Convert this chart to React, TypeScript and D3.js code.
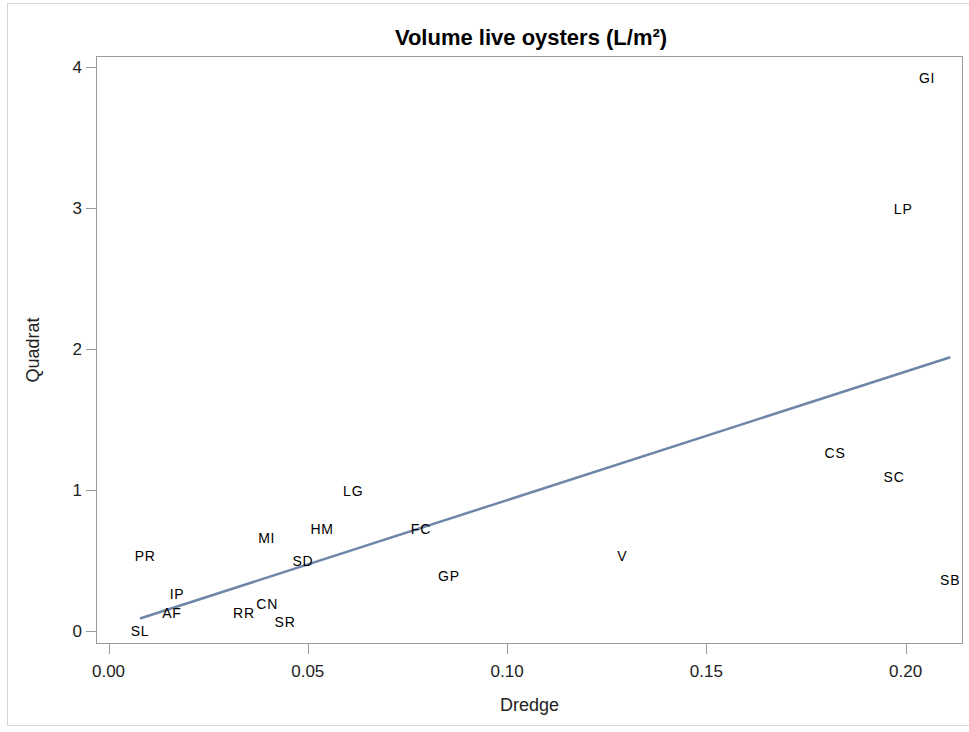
import React from "react";
import * as d3 from "d3";

const sites = ["GI", "LP", "CS", "SC", "SB", "V", "GP", "FC", "LG", "HM", "MI", "SD", "PR", "IP", "AF", "SL", "RR", "CN", "SR"];
const dredge = [0.2054, 0.1994, 0.1823, 0.1971, 0.2112, 0.1289, 0.0854, 0.0784, 0.0614, 0.0536, 0.0397, 0.0488, 0.0092, 0.0172, 0.0159, 0.0079, 0.034, 0.0398, 0.0443];
const quadrat = [3.92, 2.99, 1.262, 1.092, 0.362, 0.532, 0.39, 0.723, 0.993, 0.723, 0.66, 0.496, 0.532, 0.262, 0.128, 0.0, 0.128, 0.19, 0.064];
const xTicks = [0, 0.05, 0.1, 0.15, 0.2];
const yTicks = [0, 1, 2, 3, 4];

const W = 969;
const H = 732;
const left = 96, right = 963, top = 56, bottom = 644;
const FONT = "'Liberation Sans', Arial, sans-serif";

export default function App() {
  const x = d3.scaleLinear().domain([-0.00314, 0.2144]).range([left, right]);
  const y = d3.scaleLinear().domain([-0.092, 4.078]).range([bottom, top]);

  const mx = d3.mean(dredge)!;
  const my = d3.mean(quadrat)!;
  let sxy = 0, sxx = 0;
  dredge.forEach((v, i) => {
    sxy += (v - mx) * (quadrat[i] - my);
    sxx += (v - mx) * (v - mx);
  });
  const slope = sxy / sxx;
  const intercept = my - slope * mx;
  const [x0, x1] = d3.extent(dredge) as [number, number];
  const line = d3.line<number>().x((d) => x(d)).y((d) => y(intercept + slope * d));

  const tickColor = "#9a9a9a";

  return (
    <svg width={W} height={H} style={{ position: "absolute", left: 0, top: 0, background: "#fff" }} fontFamily={FONT}>
      <rect x={7.5} y={3.5} width={W} height={722} fill="#fff" stroke="#d4d4d4" strokeWidth={1} />
      <text x={531} y={45} textAnchor="middle" fontSize={22} fontWeight="bold" fill="#000">
        Volume live oysters (L/m²)
      </text>
      <rect x={left + 0.5} y={top + 0.5} width={right - left - 1} height={bottom - top - 1} fill="none" stroke={tickColor} strokeWidth={1} />
      {yTicks.map((t) => (
        <g key={"y" + t}>
          <line x1={left - 10} x2={left} y1={Math.round(y(t)) + 0.5} y2={Math.round(y(t)) + 0.5} stroke={tickColor} />
          <text x={left - 14} y={y(t)} dy="0.36em" textAnchor="end" fontSize={17} fill="#222">
            {d3.format("d")(t)}
          </text>
        </g>
      ))}
      {xTicks.map((t) => (
        <g key={"x" + t}>
          <line x1={Math.round(x(t)) + 0.5} x2={Math.round(x(t)) + 0.5} y1={bottom} y2={bottom + 10} stroke={tickColor} />
          <text x={x(t)} y={677} textAnchor="middle" fontSize={17} fill="#222">
            {d3.format(".2f")(t)}
          </text>
        </g>
      ))}
      <text x={(left + right) / 2} y={711} textAnchor="middle" fontSize={18} fill="#222">
        Dredge
      </text>
      <text transform={`translate(39, ${(top + bottom) / 2}) rotate(-90)`} textAnchor="middle" fontSize={18} fill="#222">
        Quadrat
      </text>
      <path d={line([x0, x1]) || ""} fill="none" stroke="#6f86a8" strokeWidth={2.5} />
      {sites.map((s, i) => (
        <text key={s} x={x(dredge[i])} y={y(quadrat[i])} dy="0.36em" textAnchor="middle" fontSize={14} letterSpacing={0.8} fill="#000">
          {s}
        </text>
      ))}
    </svg>
  );
}
